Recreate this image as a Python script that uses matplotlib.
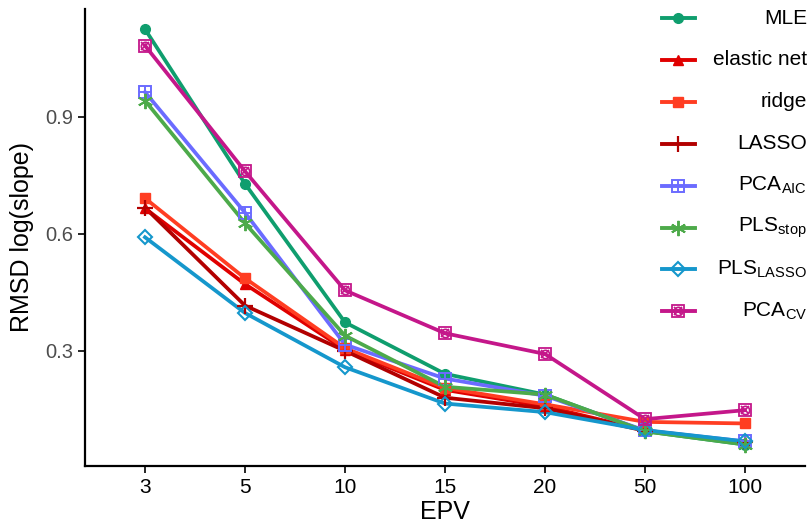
import matplotlib
matplotlib.use('Agg')
import matplotlib.pyplot as plt

plt.rcParams['font.family'] = ['Liberation Sans', 'DejaVu Sans']
plt.rcParams['mathtext.fontset'] = 'custom'
plt.rcParams['mathtext.rm'] = 'Liberation Sans'
plt.rcParams['mathtext.it'] = 'Liberation Sans:italic'

# data
epv = ['3', '5', '10', '15', '20', '50', '100']
mle = [1.124, 0.728, 0.373, 0.241, 0.188, 0.094, 0.060]
elastic_net = [0.665, 0.471, 0.303, 0.200, 0.158, 0.096, 0.066]
ridge = [0.691, 0.486, 0.307, 0.205, 0.163, 0.118, 0.114]
lasso = [0.667, 0.416, 0.300, 0.180, 0.153, 0.095, 0.066]
pca_aic = [0.963, 0.654, 0.316, 0.229, 0.185, 0.096, 0.068]
pls_stop = [0.941, 0.627, 0.339, 0.208, 0.188, 0.094, 0.060]
pls_lasso = [0.591, 0.397, 0.258, 0.165, 0.143, 0.097, 0.068]
pca_cv = [1.082, 0.760, 0.455, 0.345, 0.292, 0.125, 0.148]

labels = ['MLE', 'elastic net', 'ridge', 'LASSO',
          r'PCA$_{\mathrm{AIC}}$', r'PLS$_{\mathrm{stop}}$',
          r'PLS$_{\mathrm{LASSO}}$', r'PCA$_{\mathrm{CV}}$']
series = [mle, elastic_net, ridge, lasso, pca_aic, pls_stop, pls_lasso, pca_cv]
colors = ['#0F9E6E', '#E00000', '#FF3D22', '#B20000',
          '#6B6BFF', '#4DAA4A', '#1597CC', '#C4178A']
# each style: list of (marker, filled, size, mew)
markers = [
    [('o', True, 7, 1)],
    [('^', True, 7.5, 1)],
    [('s', True, 7, 1)],
    [('+', False, 12, 1.6)],
    [('s', False, 8, 1.4), ('+', False, 8, 1.4)],
    [((6, 2, 0), False, 11, 1.4)],
    [('D', False, 7, 1.5)],
    [('s', False, 8, 1.3), ('o', False, 6, 1.2), ('x', False, 6, 1.2)],
]

fig = plt.figure(figsize=(8.12, 5.25), dpi=100)
ax = fig.add_axes([85 / 812, 1 - 466 / 525, 720 / 812, 457.5 / 525])

x = list(range(len(epv)))
for vals, col, mk in zip(series, colors, markers):
    ax.plot(x, vals, color=col, lw=2.7, zorder=2)
    for m, filled, ms, mew in mk:
        fc = col if filled else 'none'
        ax.plot(x, vals, ls='none', marker=m, ms=ms, mfc=fc, mec=col,
                mew=mew, zorder=3)

ax.set_xlim(-0.6, len(epv) - 0.4)
ax.set_ylim(0.005, 1.177)
ax.set_xticks(x)
ax.set_xticklabels(epv)
ax.set_yticks([0.3, 0.6, 0.9])
ax.set_yticklabels(['0.3', '0.6', '0.9'])
ax.tick_params(axis='x', labelsize=15, colors='black', length=5, width=1.2)
ax.tick_params(axis='y', labelsize=14.5, labelcolor='#4D4D4D', length=5, width=1.2)
for s in ['top', 'right']:
    ax.spines[s].set_visible(False)
for s in ['left', 'bottom']:
    ax.spines[s].set_linewidth(1.6)
ax.set_xlabel('EPV', fontsize=18, labelpad=2)
ax.set_ylabel('RMSD log(slope)', fontsize=18, labelpad=8)

# legend drawn by hand (keys left, labels right-aligned)
lax = fig.add_axes([0, 0, 1, 1], facecolor='none')
lax.set_xlim(0, 812)
lax.set_ylim(525, 0)
lax.axis('off')
for i, (lab, col, mk) in enumerate(zip(labels, colors, markers)):
    yy = 18 + 41.9 * i
    lax.plot([662, 695], [yy, yy], color=col, lw=2.8)
    for m, filled, ms, mew in mk:
        fc = col if filled else 'none'
        lax.plot([678.5], [yy], ls='none', marker=m, ms=ms, mfc=fc, mec=col, mew=mew)
    lax.text(807, yy, lab, ha='right', va='center', fontsize=15)

fig.savefig('out.png', dpi=100)
